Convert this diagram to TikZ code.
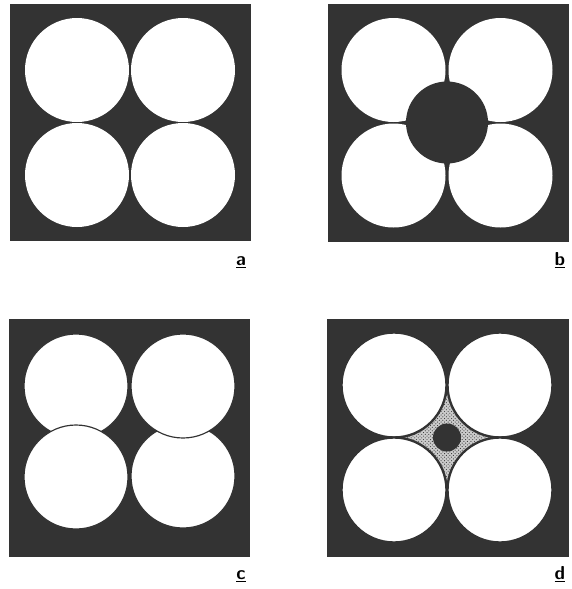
\documentclass[tikz,border=0pt]{standalone}
\usepackage{tikz}
\usetikzlibrary{patterns}
\usepackage{xcolor}
\definecolor{darkfill}{HTML}{333333}

\begin{document}
\begin{tikzpicture}[
    x=0.3mm, y=-0.3mm,
    panel/.style={fill=darkfill},
    disc/.style={fill=white},
    edgedisc/.style={fill=white, draw=darkfill, line width=1pt},
    rimdisc/.style={fill=white, draw=darkfill, line width=2pt},
    core/.style={fill=darkfill},
    stipple/.style={pattern=crosshatch dots, pattern color=darkfill},
    tag/.style={font=\sffamily\bfseries\fontsize{16}{18}\selectfont, anchor=base}
]
\useasboundingbox (0,0) rectangle (572,589);

%% ---- PANEL a: four discs in a square ----
\fill [panel] (10,4) rectangle (251,241);
\foreach \cx/\cy in {77/70, 183/70, 77/175, 183/175}
    \fill [disc] (\cx,\cy) circle (52);
\node [tag] (taga) at (241,265) {\underline{a}};

%% ---- PANEL b: four discs round a dark core ----
\fill [panel] (328,4) rectangle (569,242);
\foreach \cx/\cy in {393.5/70, 500.5/70, 393.5/175.5, 500.5/175.5}
    \fill [disc] (\cx,\cy) circle (52);
\fill [core] (447,122.5) circle (41);
\node [tag] (tagb) at (560,265) {\underline{b}};

%% ---- PANEL c: overlapping discs ----
\fill [panel] (9,319) rectangle (250,557);
\filldraw [edgedisc] (76,386)  circle (52);
\filldraw [edgedisc] (183,476) circle (52);
\filldraw [edgedisc] (76,477)  circle (52);
\filldraw [edgedisc] (183,386) circle (52);
\node [tag] (tagc) at (241,579) {\underline{c}};

%% ---- PANEL d: stippled gap with small core ----
\fill [panel] (327,319) rectangle (569,557);
\fill [darkfill!25] (394,385) rectangle (500,490);
\fill [stipple] (394,385) rectangle (500,490);
\foreach \cx/\cy in {394/385, 500/385, 394/490, 500/490}
    \filldraw [rimdisc] (\cx,\cy) circle (52.5);
\fill [core] (447,437.5) circle (14);
\node [tag] (tagd) at (560,579) {\underline{d}};

\end{tikzpicture}
\end{document}
